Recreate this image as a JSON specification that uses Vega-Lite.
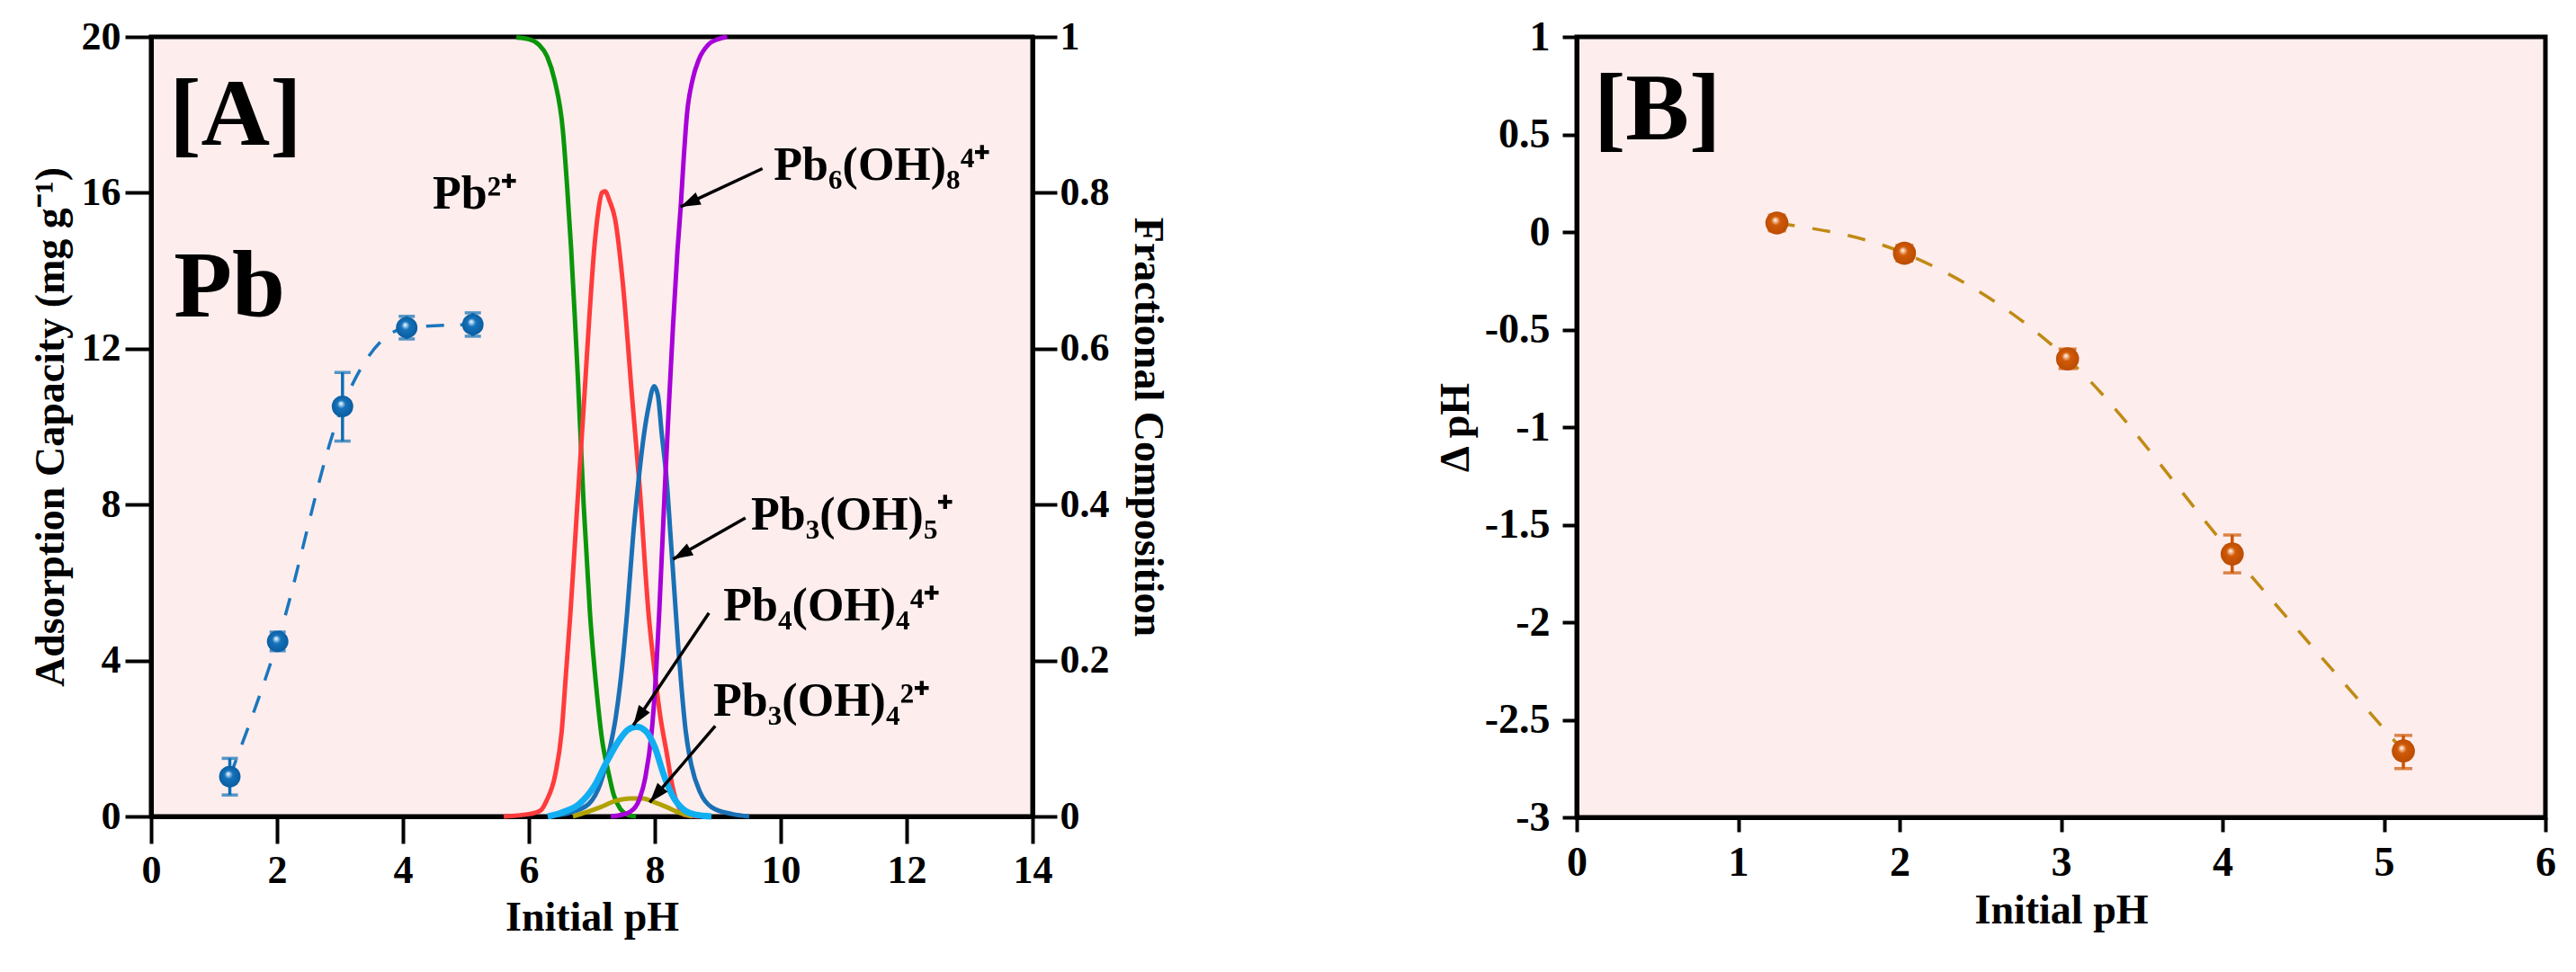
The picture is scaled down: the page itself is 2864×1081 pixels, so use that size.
{
  "$schema": "https://vega.github.io/schema/vega-lite/v6.json",
  "background": "white",
  "padding": {"left": 30, "top": 15, "right": 10, "bottom": 5},
  "spacing": 291,
  "config": {
    "font": "Liberation Serif",
    "view": {"stroke": "black", "strokeWidth": 5, "fill": "#FDEDED"},
    "axis": {
      "labelFont": "Liberation Serif", "labelFontWeight": "bold", "labelColor": "black",
      "titleFont": "Liberation Serif", "titleFontWeight": "bold", "titleColor": "black",
      "domainColor": "black", "tickColor": "black", "grid": false,
      "labelFontSize": 44, "titleFontSize": 46, "domainWidth": 5, "tickWidth": 4,
      "labelFlush": false, "labelOverlap": false, "labelExpr": "'' + datum.value"
    },
    "text": {"font": "Liberation Serif", "fontWeight": "bold", "color": "black"}
  },
  "datasets": {
    "ads": [
      {"pH": 1.25, "q": 1.02, "lo": 0.55, "hi": 1.49},
      {"pH": 2.01, "q": 4.49, "lo": 4.25, "hi": 4.73},
      {"pH": 3.04, "q": 10.52, "lo": 9.63, "hi": 11.39},
      {"pH": 4.06, "q": 12.54, "lo": 12.25, "hi": 12.83},
      {"pH": 5.11, "q": 12.62, "lo": 12.32, "hi": 12.92}
    ],
    "frac": [
      {"s": "Pb2+", "pH": 5.8, "f": 0.999}, {"s": "Pb2+", "pH": 6.0, "f": 0.997}, {"s": "Pb2+", "pH": 6.16, "f": 0.99},
      {"s": "Pb2+", "pH": 6.29, "f": 0.975}, {"s": "Pb2+", "pH": 6.41, "f": 0.944}, {"s": "Pb2+", "pH": 6.54, "f": 0.88},
      {"s": "Pb2+", "pH": 6.61, "f": 0.805}, {"s": "Pb2+", "pH": 6.67, "f": 0.73}, {"s": "Pb2+", "pH": 6.73, "f": 0.64},
      {"s": "Pb2+", "pH": 6.78, "f": 0.56}, {"s": "Pb2+", "pH": 6.87, "f": 0.40}, {"s": "Pb2+", "pH": 6.97, "f": 0.261},
      {"s": "Pb2+", "pH": 7.07, "f": 0.166}, {"s": "Pb2+", "pH": 7.16, "f": 0.1}, {"s": "Pb2+", "pH": 7.26, "f": 0.058},
      {"s": "Pb2+", "pH": 7.35, "f": 0.027}, {"s": "Pb2+", "pH": 7.45, "f": 0.01}, {"s": "Pb2+", "pH": 7.55, "f": 0.003},
      {"s": "Pb2+", "pH": 7.7, "f": 0},
      {"s": "PbOH+", "pH": 5.6, "f": 0}, {"s": "PbOH+", "pH": 6.0, "f": 0.003}, {"s": "PbOH+", "pH": 6.19, "f": 0.008},
      {"s": "PbOH+", "pH": 6.28, "f": 0.02}, {"s": "PbOH+", "pH": 6.42, "f": 0.054}, {"s": "PbOH+", "pH": 6.52, "f": 0.108},
      {"s": "PbOH+", "pH": 6.59, "f": 0.184}, {"s": "PbOH+", "pH": 6.66, "f": 0.261}, {"s": "PbOH+", "pH": 6.77, "f": 0.40},
      {"s": "PbOH+", "pH": 6.88, "f": 0.537}, {"s": "PbOH+", "pH": 6.96, "f": 0.64}, {"s": "PbOH+", "pH": 7.04, "f": 0.73},
      {"s": "PbOH+", "pH": 7.1, "f": 0.775}, {"s": "PbOH+", "pH": 7.16, "f": 0.8}, {"s": "PbOH+", "pH": 7.21, "f": 0.802},
      {"s": "PbOH+", "pH": 7.28, "f": 0.79}, {"s": "PbOH+", "pH": 7.37, "f": 0.766}, {"s": "PbOH+", "pH": 7.49, "f": 0.686},
      {"s": "PbOH+", "pH": 7.64, "f": 0.537}, {"s": "PbOH+", "pH": 7.76, "f": 0.422}, {"s": "PbOH+", "pH": 7.9, "f": 0.261},
      {"s": "PbOH+", "pH": 8.0, "f": 0.184}, {"s": "PbOH+", "pH": 8.09, "f": 0.127}, {"s": "PbOH+", "pH": 8.19, "f": 0.081},
      {"s": "PbOH+", "pH": 8.28, "f": 0.039}, {"s": "PbOH+", "pH": 8.38, "f": 0.012}, {"s": "PbOH+", "pH": 8.47, "f": 0.002},
      {"s": "PbOH+", "pH": 8.7, "f": 0},
      {"s": "Pb3(OH)5+", "pH": 6.3, "f": 0}, {"s": "Pb3(OH)5+", "pH": 6.66, "f": 0.005}, {"s": "Pb3(OH)5+", "pH": 6.95, "f": 0.016},
      {"s": "Pb3(OH)5+", "pH": 7.14, "f": 0.043}, {"s": "Pb3(OH)5+", "pH": 7.28, "f": 0.085}, {"s": "Pb3(OH)5+", "pH": 7.38, "f": 0.127},
      {"s": "Pb3(OH)5+", "pH": 7.47, "f": 0.184}, {"s": "Pb3(OH)5+", "pH": 7.56, "f": 0.261}, {"s": "Pb3(OH)5+", "pH": 7.66, "f": 0.364},
      {"s": "Pb3(OH)5+", "pH": 7.73, "f": 0.422}, {"s": "Pb3(OH)5+", "pH": 7.83, "f": 0.491}, {"s": "Pb3(OH)5+", "pH": 7.9, "f": 0.525},
      {"s": "Pb3(OH)5+", "pH": 7.99, "f": 0.552}, {"s": "Pb3(OH)5+", "pH": 8.05, "f": 0.54}, {"s": "Pb3(OH)5+", "pH": 8.11, "f": 0.491},
      {"s": "Pb3(OH)5+", "pH": 8.19, "f": 0.43}, {"s": "Pb3(OH)5+", "pH": 8.25, "f": 0.36}, {"s": "Pb3(OH)5+", "pH": 8.31, "f": 0.29},
      {"s": "Pb3(OH)5+", "pH": 8.37, "f": 0.22}, {"s": "Pb3(OH)5+", "pH": 8.43, "f": 0.16}, {"s": "Pb3(OH)5+", "pH": 8.49, "f": 0.11},
      {"s": "Pb3(OH)5+", "pH": 8.58, "f": 0.066}, {"s": "Pb3(OH)5+", "pH": 8.72, "f": 0.031}, {"s": "Pb3(OH)5+", "pH": 8.9, "f": 0.012},
      {"s": "Pb3(OH)5+", "pH": 9.23, "f": 0.003}, {"s": "Pb3(OH)5+", "pH": 9.5, "f": 0},
      {"s": "Pb3(OH)4 2+", "pH": 6.7, "f": 0}, {"s": "Pb3(OH)4 2+", "pH": 6.9, "f": 0.005}, {"s": "Pb3(OH)4 2+", "pH": 7.14, "f": 0.012},
      {"s": "Pb3(OH)4 2+", "pH": 7.38, "f": 0.02}, {"s": "Pb3(OH)4 2+", "pH": 7.61, "f": 0.023}, {"s": "Pb3(OH)4 2+", "pH": 7.81, "f": 0.023},
      {"s": "Pb3(OH)4 2+", "pH": 8.0, "f": 0.018}, {"s": "Pb3(OH)4 2+", "pH": 8.19, "f": 0.012}, {"s": "Pb3(OH)4 2+", "pH": 8.38, "f": 0.005},
      {"s": "Pb3(OH)4 2+", "pH": 8.6, "f": 0},
      {"s": "Pb6(OH)8 4+", "pH": 7.3, "f": 0}, {"s": "Pb6(OH)8 4+", "pH": 7.47, "f": 0.002}, {"s": "Pb6(OH)8 4+", "pH": 7.61, "f": 0.006},
      {"s": "Pb6(OH)8 4+", "pH": 7.76, "f": 0.023}, {"s": "Pb6(OH)8 4+", "pH": 7.85, "f": 0.05}, {"s": "Pb6(OH)8 4+", "pH": 7.95, "f": 0.108},
      {"s": "Pb6(OH)8 4+", "pH": 8.02, "f": 0.184}, {"s": "Pb6(OH)8 4+", "pH": 8.07, "f": 0.261}, {"s": "Pb6(OH)8 4+", "pH": 8.16, "f": 0.422},
      {"s": "Pb6(OH)8 4+", "pH": 8.23, "f": 0.537}, {"s": "Pb6(OH)8 4+", "pH": 8.29, "f": 0.63}, {"s": "Pb6(OH)8 4+", "pH": 8.36, "f": 0.726},
      {"s": "Pb6(OH)8 4+", "pH": 8.41, "f": 0.78}, {"s": "Pb6(OH)8 4+", "pH": 8.46, "f": 0.845}, {"s": "Pb6(OH)8 4+", "pH": 8.51, "f": 0.9},
      {"s": "Pb6(OH)8 4+", "pH": 8.6, "f": 0.945}, {"s": "Pb6(OH)8 4+", "pH": 8.7, "f": 0.971}, {"s": "Pb6(OH)8 4+", "pH": 8.85, "f": 0.99},
      {"s": "Pb6(OH)8 4+", "pH": 9.0, "f": 0.997}, {"s": "Pb6(OH)8 4+", "pH": 9.15, "f": 1.0}
    ],
    "lightblue": [
      {"s": "Pb4(OH)4 4+", "pH": 6.3, "f": 0}, {"s": "Pb4(OH)4 4+", "pH": 6.52, "f": 0.005}, {"s": "Pb4(OH)4 4+", "pH": 6.8, "f": 0.016},
      {"s": "Pb4(OH)4 4+", "pH": 7.04, "f": 0.039}, {"s": "Pb4(OH)4 4+", "pH": 7.23, "f": 0.069}, {"s": "Pb4(OH)4 4+", "pH": 7.42, "f": 0.096},
      {"s": "Pb4(OH)4 4+", "pH": 7.57, "f": 0.111}, {"s": "Pb4(OH)4 4+", "pH": 7.71, "f": 0.115}, {"s": "Pb4(OH)4 4+", "pH": 7.85, "f": 0.11},
      {"s": "Pb4(OH)4 4+", "pH": 8.0, "f": 0.089}, {"s": "Pb4(OH)4 4+", "pH": 8.14, "f": 0.054}, {"s": "Pb4(OH)4 4+", "pH": 8.28, "f": 0.027},
      {"s": "Pb4(OH)4 4+", "pH": 8.47, "f": 0.008}, {"s": "Pb4(OH)4 4+", "pH": 8.66, "f": 0.002}, {"s": "Pb4(OH)4 4+", "pH": 8.9, "f": 0}
    ],
    "bigA": [
      {"t": "[A]", "pH": 0.29, "f": 0.862},
      {"t": "Pb", "pH": 0.36, "f": 0.641}
    ],
    "specLabels": [
      {"t": "Pb²⁺", "pH": 4.47, "f": 0.78},
      {"t": "Pb₆(OH)₈⁴⁺", "pH": 9.89, "f": 0.817},
      {"t": "Pb₃(OH)₅⁺", "pH": 9.53, "f": 0.368},
      {"t": "Pb₄(OH)₄⁴⁺", "pH": 9.09, "f": 0.252},
      {"t": "Pb₃(OH)₄²⁺", "pH": 8.93, "f": 0.129}
    ],
    "arrows": [
      {"id": "a1", "pH": 9.71, "f": 0.831, "pH2": 8.41, "f2": 0.782},
      {"id": "a2", "pH": 9.44, "f": 0.383, "pH2": 8.29, "f2": 0.33},
      {"id": "a3", "pH": 8.86, "f": 0.261, "pH2": 7.66, "f2": 0.117},
      {"id": "a4", "pH": 8.96, "f": 0.116, "pH2": 7.92, "f2": 0.018}
    ],
    "dph": [
      {"pH": 1.24, "d": 0.046, "lo": 0.006, "hi": 0.086},
      {"pH": 2.03, "d": -0.109, "lo": -0.149, "hi": -0.069},
      {"pH": 3.04, "d": -0.65, "lo": -0.7, "hi": -0.6},
      {"pH": 4.06, "d": -1.65, "lo": -1.747, "hi": -1.553},
      {"pH": 5.12, "d": -2.66, "lo": -2.75, "hi": -2.58}
    ],
    "bigB": [
      {"t": "[B]", "pH": 0.106, "d": 0.475}
    ]
  },
  "hconcat": [
    {
      "width": 980,
      "height": 867,
      "resolve": {"scale": {"y": "independent"}},
      "layer": [
        {
          "data": {"name": "ads"},
          "layer": [
            {
              "mark": {"type": "errorbar", "thickness": 3.5, "color": "#0D6EB4", "ticks": {"size": 18, "thickness": 3.5, "color": "#0D6EB4"}},
              "encoding": {
                "x": {"field": "pH", "type": "quantitative", "title": "Initial pH",
                      "scale": {"domain": [0, 14], "nice": false},
                      "axis": {"values": [0, 2, 4, 6, 8, 10, 12, 14], "tickSize": 30, "labelPadding": 8, "titlePadding": 8}},
                "y": {"field": "lo", "type": "quantitative", "title": "Adsorption Capacity (mg g⁻¹)",
                      "scale": {"domain": [0, 20], "nice": false},
                      "axis": {"orient": "left", "values": [0, 4, 8, 12, 16, 20], "tickSize": 29, "labelPadding": 5, "titlePadding": 10}},
                "y2": {"field": "hi"}
              }
            },
            {
              "mark": {"type": "line", "strokeDash": [20, 18], "strokeWidth": 3.5, "color": "#1A76BD", "interpolate": "monotone"},
              "encoding": {
                "x": {"field": "pH", "type": "quantitative", "title": "Initial pH"},
                "y": {"field": "q", "type": "quantitative", "title": "Adsorption Capacity (mg g⁻¹)"}
              }
            },
            {
              "mark": {"type": "point", "filled": true, "size": 570, "opacity": 1, "strokeWidth": 0,
                       "fill": {"gradient": "radial", "x1": 0.42, "y1": 0.36, "r1": 0, "x2": 0.5, "y2": 0.5, "r2": 0.55,
                                "stops": [{"offset": 0, "color": "#ffffff"}, {"offset": 0.15, "color": "#9cc8ec"}, {"offset": 0.35, "color": "#1672ba"}, {"offset": 1, "color": "#085a9e"}]}},
              "encoding": {
                "x": {"field": "pH", "type": "quantitative", "title": "Initial pH"},
                "y": {"field": "q", "type": "quantitative", "title": "Adsorption Capacity (mg g⁻¹)"}
              }
            }
          ]
        },
        {
          "layer": [
            {
              "data": {"name": "frac"},
              "mark": {"type": "line", "strokeWidth": 5, "interpolate": "monotone"},
              "encoding": {
                "x": {"field": "pH", "type": "quantitative", "title": "Initial pH"},
                "y": {"field": "f", "type": "quantitative", "title": "Fractional Composition",
                      "scale": {"domain": [0, 1], "nice": false},
                      "axis": {"orient": "right", "values": [0, 0.2, 0.4, 0.6, 0.8, 1], "tickSize": 27, "labelPadding": 3, "titlePadding": 18}},
                "color": {"field": "s", "type": "nominal", "legend": null,
                          "scale": {"domain": ["Pb2+", "PbOH+", "Pb3(OH)5+", "Pb3(OH)4 2+", "Pb6(OH)8 4+", "Pb4(OH)4 4+"],
                                    "range": ["#0A960A", "#FF3B3B", "#1A70B5", "#B0A200", "#A800D8", "#12AEF2"]}}
              }
            },
            {
              "data": {"name": "lightblue"},
              "mark": {"type": "line", "strokeWidth": 7, "color": "#12AEF2", "interpolate": "monotone"},
              "encoding": {
                "x": {"field": "pH", "type": "quantitative", "title": "Initial pH"},
                "y": {"field": "f", "type": "quantitative", "title": "Fractional Composition"}
              }
            },
            {
              "data": {"name": "arrows"},
              "mark": {"type": "rule", "strokeWidth": 3.5, "color": "black"},
              "encoding": {
                "x": {"field": "pH", "type": "quantitative", "title": "Initial pH"},
                "y": {"field": "f", "type": "quantitative", "title": "Fractional Composition"},
                "x2": {"field": "pH2"},
                "y2": {"field": "f2"}
              }
            },
            {
              "data": {"name": "arrows"},
              "transform": [{"filter": "datum.id === 'a1'"}],
              "mark": {"type": "point", "filled": true, "color": "black", "opacity": 1, "size": 1936, "strokeWidth": 0,
                       "shape": "M0,0 L-0.34,1 L0.34,1 Z", "angle": 244.9},
              "encoding": {
                "x": {"field": "pH2", "type": "quantitative", "title": "Initial pH"},
                "y": {"field": "f2", "type": "quantitative", "title": "Fractional Composition"}
              }
            },
            {
              "data": {"name": "arrows"},
              "transform": [{"filter": "datum.id === 'a2'"}],
              "mark": {"type": "point", "filled": true, "color": "black", "opacity": 1, "size": 1936, "strokeWidth": 0,
                       "shape": "M0,0 L-0.34,1 L0.34,1 Z", "angle": 240.2},
              "encoding": {
                "x": {"field": "pH2", "type": "quantitative", "title": "Initial pH"},
                "y": {"field": "f2", "type": "quantitative", "title": "Fractional Composition"}
              }
            },
            {
              "data": {"name": "arrows"},
              "transform": [{"filter": "datum.id === 'a3'"}],
              "mark": {"type": "point", "filled": true, "color": "black", "opacity": 1, "size": 1936, "strokeWidth": 0,
                       "shape": "M0,0 L-0.34,1 L0.34,1 Z", "angle": 213.8},
              "encoding": {
                "x": {"field": "pH2", "type": "quantitative", "title": "Initial pH"},
                "y": {"field": "f2", "type": "quantitative", "title": "Fractional Composition"}
              }
            },
            {
              "data": {"name": "arrows"},
              "transform": [{"filter": "datum.id === 'a4'"}],
              "mark": {"type": "point", "filled": true, "color": "black", "opacity": 1, "size": 1936, "strokeWidth": 0,
                       "shape": "M0,0 L-0.34,1 L0.34,1 Z", "angle": 220.5},
              "encoding": {
                "x": {"field": "pH2", "type": "quantitative", "title": "Initial pH"},
                "y": {"field": "f2", "type": "quantitative", "title": "Fractional Composition"}
              }
            },
            {
              "data": {"name": "specLabels"},
              "mark": {"type": "text", "fontSize": 52, "align": "left", "baseline": "alphabetic", "font": "Liberation Serif", "fontWeight": "bold"},
              "encoding": {
                "x": {"field": "pH", "type": "quantitative", "title": "Initial pH"},
                "y": {"field": "f", "type": "quantitative", "title": "Fractional Composition"},
                "text": {"field": "t"}
              }
            },
            {
              "data": {"name": "bigA"},
              "mark": {"type": "text", "fontSize": 106, "align": "left", "baseline": "alphabetic", "font": "Liberation Serif", "fontWeight": "bold"},
              "encoding": {
                "x": {"field": "pH", "type": "quantitative", "title": "Initial pH"},
                "y": {"field": "f", "type": "quantitative", "title": "Fractional Composition"},
                "text": {"field": "t"}
              }
            }
          ]
        }
      ]
    },
    {
      "width": 1077,
      "height": 868,
      "layer": [
        {
          "data": {"name": "dph"},
          "mark": {"type": "errorbar", "thickness": 3.5, "color": "#CC5500", "ticks": {"size": 20, "thickness": 3.5, "color": "#CC5500"}},
          "encoding": {
            "x": {"field": "pH", "type": "quantitative", "title": "Initial pH",
                  "scale": {"domain": [0, 6], "nice": false},
                  "axis": {"values": [0, 1, 2, 3, 4, 5, 6], "tickSize": 16, "labelPadding": 12, "titlePadding": 8, "labelFontSize": 46}},
            "y": {"field": "lo", "type": "quantitative", "title": "Δ pH",
                  "scale": {"domain": [-3, 1], "nice": false},
                  "axis": {"values": [-3, -2.5, -2, -1.5, -1, -0.5, 0, 0.5, 1], "tickSize": 16, "labelPadding": 14, "titlePadding": 8, "labelFontSize": 46}},
            "y2": {"field": "hi"}
          }
        },
        {
          "data": {"name": "dph"},
          "mark": {"type": "line", "strokeDash": [20, 20], "strokeWidth": 3.5, "color": "#C08A14", "interpolate": "monotone"},
          "encoding": {
            "x": {"field": "pH", "type": "quantitative", "title": "Initial pH"},
            "y": {"field": "d", "type": "quantitative", "title": "Δ pH"}
          }
        },
        {
          "data": {"name": "dph"},
          "mark": {"type": "point", "filled": true, "size": 660, "opacity": 1, "strokeWidth": 0,
                   "fill": {"gradient": "radial", "x1": 0.42, "y1": 0.36, "r1": 0, "x2": 0.5, "y2": 0.5, "r2": 0.55,
                            "stops": [{"offset": 0, "color": "#ffffff"}, {"offset": 0.15, "color": "#f3b990"}, {"offset": 0.35, "color": "#d05a08"}, {"offset": 1, "color": "#b84a00"}]}},
          "encoding": {
            "x": {"field": "pH", "type": "quantitative", "title": "Initial pH"},
            "y": {"field": "d", "type": "quantitative", "title": "Δ pH"}
          }
        },
        {
          "data": {"name": "bigB"},
          "mark": {"type": "text", "fontSize": 106, "align": "left", "baseline": "alphabetic", "font": "Liberation Serif", "fontWeight": "bold"},
          "encoding": {
            "x": {"field": "pH", "type": "quantitative", "title": "Initial pH"},
            "y": {"field": "d", "type": "quantitative", "title": "Δ pH"},
            "text": {"field": "t"}
          }
        }
      ]
    }
  ]
}
